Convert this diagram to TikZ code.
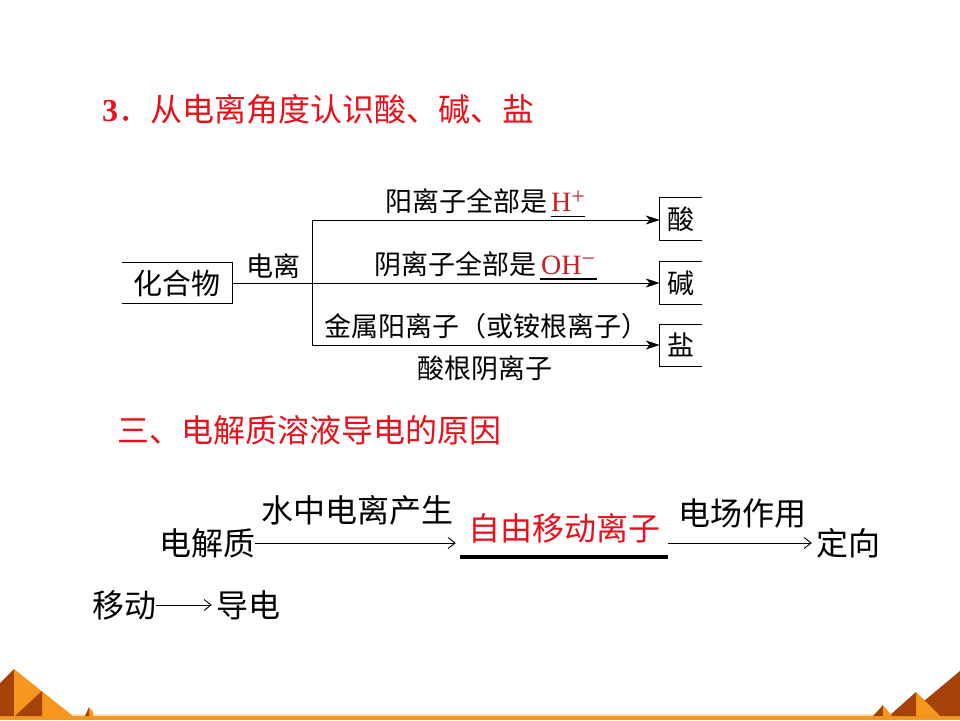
\documentclass[tikz,border=0pt]{standalone}
\usepackage{fontspec}
\setmainfont{Liberation Serif}
\newfontfamily\cjk{Noto Sans CJK SC}
\usetikzlibrary{arrows.meta}
\definecolor{tred}{HTML}{E8101A}
\definecolor{dred}{HTML}{C8202A}
\definecolor{brn}{HTML}{A5420A}
\definecolor{org}{HTML}{F7961C}
\definecolor{pale}{HTML}{FCE0B0}
\tikzset{
  t27/.style={inner sep=0pt, text height=23.8pt, text depth=3.2pt, font=\cjk\fontsize{27pt}{27pt}\selectfont},
  t29/.style={inner sep=0pt, text height=25.5pt, text depth=3.5pt, font=\cjk\fontsize{29pt}{29pt}\selectfont},
  t32/.style={inner sep=0pt, text height=28.2pt, text depth=3.8pt, font=\cjk\fontsize{32pt}{32pt}\selectfont},
  lat/.style={inner sep=0pt, font=\fontsize{28pt}{28pt}\selectfont, text=dred},
  thinln/.style={line width=1pt},
  farr/.style={line width=1pt, -{Stealth[length=14pt,width=9pt,inset=4pt]}},
  oarr/.style={line width=0.9pt, -{Straight Barb[length=7pt,width=11pt]}, shorten >=4pt},
}
\begin{document}
\begin{tikzpicture}[x=1pt,y=-1pt]
\useasboundingbox (0,0) rectangle (960,720);
\fill[white] (0,0) rectangle (960,720);

% title
\node[inner sep=0pt, anchor=base west, text=tred, font=\bfseries\fontsize{32pt}{32pt}\selectfont] (t3) at (102,121) {3};
\node[t32, anchor=base west, text=tred] (title) at (t3.base east) {．从电离角度认识酸、碱、盐};

% diagram 1
\node[t29, minimum width=110pt, minimum height=41pt] (hhw) at (177,283) {化合物};
\draw[thinln] (hhw.north west) -- (hhw.north east) -- (hhw.south east) -- (hhw.south west);
\coordinate (br) at (312,283);
\coordinate (bt) at (312,220);
\coordinate (bb) at (312,345);
\draw[thinln] (hhw.east) -- (br);
\node[t27] (dl) at (273,266) {电离};
\draw[thinln] (bt) -- (bb);

\node[t27, minimum width=42pt, minimum height=42pt] (suan) at (681,219) {酸};
\node[t27, minimum width=42pt, minimum height=42pt] (jian) at (681,283) {碱};
\node[t27, minimum width=42pt, minimum height=42pt] (yan) at (681,345.5) {盐};
\foreach \b in {suan,jian,yan}
  \draw[thinln] (\b.north east) -- (\b.north west) -- (\b.south west) -- (\b.south east);

\draw[farr] (bt) -- (bt -| suan.west);
\draw[farr] (br) -- (br -| jian.west);
\draw[farr] (bb) -- (bb -| yan.west);

\node[t27, anchor=base east] (l1) at (548,211) {阳离子全部是};
\node[lat, anchor=base west] (hp) at (551,211) {H\raisebox{7pt}{\fontsize{24pt}{24pt}\selectfont +}};
\coordinate (u1a) at (551,216);
\coordinate (u1b) at (585,216);
\draw[thinln] (u1a) -- (u1b);

\node[t27, anchor=base east] (l2) at (537,274) {阴离子全部是};
\node[lat, anchor=base west] (oh) at (541,274) {OH\raisebox{8pt}{\fontsize{24pt}{24pt}\selectfont −}};
\coordinate (u2a) at (540,279);
\coordinate (u2b) at (597,279);
\draw[line width=2pt] (u2a) -- (u2b);

\node[t27] (l3) at (486,326) {金属阳离子（或铵根离子）};
\node[t27] (l4) at (485,368) {酸根阴离子};

% section heading
\node[t32, anchor=west, text=tred] (sec) at (117,430) {三、电解质溶液导电的原因};

% diagram 2
\node[t32] (dj) at (207,543) {电解质};
\node[t32] (sz) at (357,510) {水中电离产生};
\node[t32, text=tred, minimum width=208pt, minimum height=58pt] (zy) at (564,528) {自由移动离子};
\draw[line width=3.5pt] (zy.south west) -- (zy.south east);
\draw[oarr] (dj.east) -- (dj.east -| zy.west);
\node[t32] (dc) at (742,513) {电场作用};
\node[t32] (dx) at (848,543) {定向};
\draw[oarr] (zy.east |- dx.west) -- (dx.west);
\node[t32] (yd) at (124,605) {移动};
\node[t32] (dd) at (248,605) {导电};
\draw[oarr] (yd.east) -- (dd.west);

% decorations
\fill[pale] (0,714) rectangle (960,716);
\fill[org] (0,716) rectangle (960,720);
\fill[brn] (0,683) -- (14,669) -- (14,716) -- (0,716) -- cycle;
\fill[org] (14,669) -- (73,716) -- (14,716) -- cycle;
\fill[brn] (15,716) -- (42,691) -- (42,716) -- cycle;
\fill[brn] (85,716) -- (89,707) -- (89,716) -- cycle;
\fill[org] (89,707) -- (93,712) -- (93,716) -- (89,716) -- cycle;

\fill[brn] (906,716) -- (960,671) -- (960,716) -- cycle;
\fill[org] (916,692) -- (940,716) -- (916,716) -- cycle;
\fill[brn] (889,716) -- (916,692) -- (916,716) -- cycle;
\fill[brn] (873,716) -- (883,705) -- (883,716) -- cycle;
\fill[org] (883,705) -- (892,716) -- (883,716) -- cycle;
\end{tikzpicture}
\end{document}
